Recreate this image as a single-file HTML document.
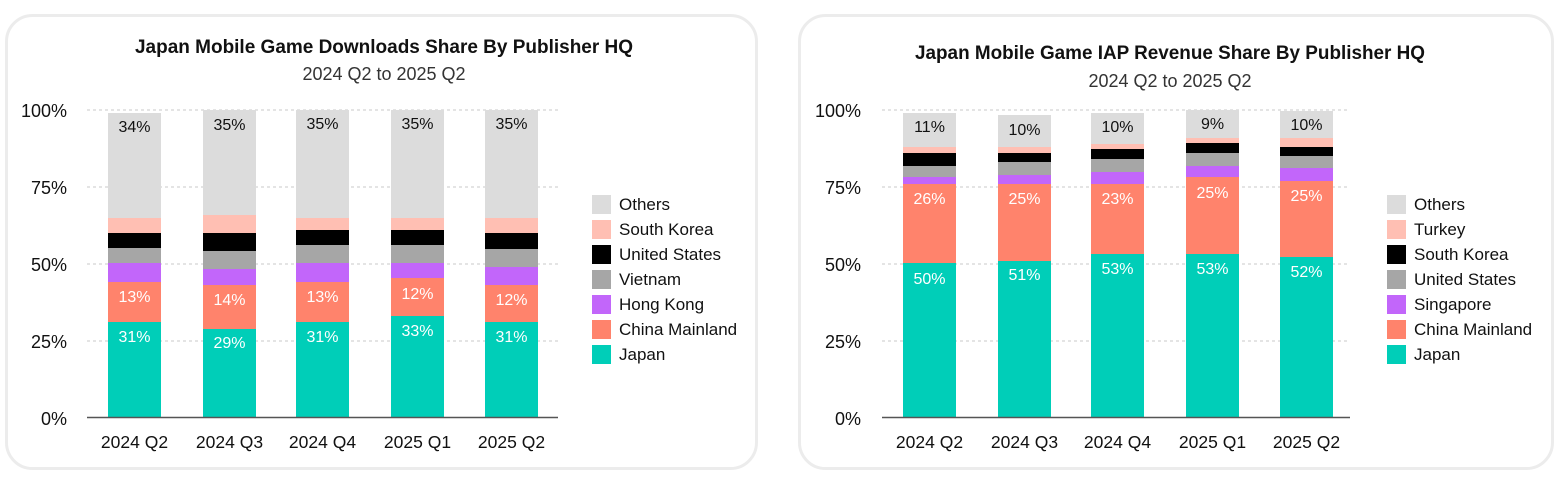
<!DOCTYPE html>
<html><head><meta charset="utf-8"><style>
html,body{margin:0;padding:0;background:#fff;}
svg{display:block;font-family:"Liberation Sans",sans-serif;}
</style></head><body>
<svg width="1563" height="492" viewBox="0 0 1563 492" xmlns="http://www.w3.org/2000/svg">
<rect x="0" y="0" width="1563" height="492" fill="#fff"/>
<rect x="6.5" y="15.5" width="750" height="453" rx="26" fill="#fff" stroke="#ececec" stroke-width="3"/>
<rect x="799.5" y="15.5" width="753" height="453" rx="26" fill="#fff" stroke="#ececec" stroke-width="3"/>
<g fill="#111">
<text x="384" y="53" font-size="19" font-weight="bold" text-anchor="middle" textLength="498" lengthAdjust="spacingAndGlyphs">Japan Mobile Game Downloads Share By Publisher HQ</text>
<text x="384" y="80" font-size="18" text-anchor="middle" fill="#333">2024 Q2 to 2025 Q2</text>
<text x="1170" y="59" font-size="19" font-weight="bold" text-anchor="middle" textLength="510" lengthAdjust="spacingAndGlyphs">Japan Mobile Game IAP Revenue Share By Publisher HQ</text>
<text x="1170" y="87" font-size="18" text-anchor="middle" fill="#333">2024 Q2 to 2025 Q2</text>
</g>
<g stroke="#c8c8c8" stroke-dasharray="3,3" stroke-width="1">
<line x1="87" y1="110" x2="558" y2="110"/><line x1="87" y1="187" x2="558" y2="187"/><line x1="87" y1="264" x2="558" y2="264"/><line x1="87" y1="341" x2="558" y2="341"/>
<line x1="882" y1="110" x2="1350" y2="110"/><line x1="882" y1="187" x2="1350" y2="187"/><line x1="882" y1="264" x2="1350" y2="264"/><line x1="882" y1="341" x2="1350" y2="341"/>
</g>
<g font-size="18" text-anchor="end" fill="#111">
<text x="67" y="117">100%</text><text x="67" y="194">75%</text><text x="67" y="271">50%</text><text x="67" y="348">25%</text><text x="67" y="425">0%</text>
<text x="861" y="117">100%</text><text x="861" y="194">75%</text><text x="861" y="271">50%</text><text x="861" y="348">25%</text><text x="861" y="425">0%</text>
</g>
<g>
<rect x="108" y="113" width="53" height="105" fill="#dcdcdc"/><rect x="108" y="218" width="53" height="15" fill="#ffbfb3"/><rect x="108" y="233" width="53" height="15" fill="#000"/><rect x="108" y="248" width="53" height="15" fill="#a6a6a6"/><rect x="108" y="263" width="53" height="19" fill="#c266fa"/><rect x="108" y="282" width="53" height="40" fill="#ff836c"/><rect x="108" y="322" width="53" height="95" fill="#00ceb8"/>
<rect x="203" y="110" width="53" height="105" fill="#dcdcdc"/><rect x="203" y="215" width="53" height="18" fill="#ffbfb3"/><rect x="203" y="233" width="53" height="18" fill="#000"/><rect x="203" y="251" width="53" height="18" fill="#a6a6a6"/><rect x="203" y="269" width="53" height="16" fill="#c266fa"/><rect x="203" y="285" width="53" height="44" fill="#ff836c"/><rect x="203" y="329" width="53" height="88" fill="#00ceb8"/>
<rect x="296" y="110" width="53" height="108" fill="#dcdcdc"/><rect x="296" y="218" width="53" height="12" fill="#ffbfb3"/><rect x="296" y="230" width="53" height="15" fill="#000"/><rect x="296" y="245" width="53" height="18" fill="#a6a6a6"/><rect x="296" y="263" width="53" height="19" fill="#c266fa"/><rect x="296" y="282" width="53" height="40" fill="#ff836c"/><rect x="296" y="322" width="53" height="95" fill="#00ceb8"/>
<rect x="391" y="110" width="53" height="108" fill="#dcdcdc"/><rect x="391" y="218" width="53" height="12" fill="#ffbfb3"/><rect x="391" y="230" width="53" height="15" fill="#000"/><rect x="391" y="245" width="53" height="18" fill="#a6a6a6"/><rect x="391" y="263" width="53" height="15" fill="#c266fa"/><rect x="391" y="278" width="53" height="38" fill="#ff836c"/><rect x="391" y="316" width="53" height="101" fill="#00ceb8"/>
<rect x="485" y="110" width="53" height="108" fill="#dcdcdc"/><rect x="485" y="218" width="53" height="15" fill="#ffbfb3"/><rect x="485" y="233" width="53" height="16" fill="#000"/><rect x="485" y="249" width="53" height="18" fill="#a6a6a6"/><rect x="485" y="267" width="53" height="18" fill="#c266fa"/><rect x="485" y="285" width="53" height="37" fill="#ff836c"/><rect x="485" y="322" width="53" height="95" fill="#00ceb8"/>
</g>
<g>
<rect x="903" y="113" width="53" height="34" fill="#dcdcdc"/><rect x="903" y="147" width="53" height="6" fill="#ffbfb3"/><rect x="903" y="153" width="53" height="13" fill="#000"/><rect x="903" y="166" width="53" height="11" fill="#a6a6a6"/><rect x="903" y="177" width="53" height="7" fill="#c266fa"/><rect x="903" y="184" width="53" height="79" fill="#ff836c"/><rect x="903" y="263" width="53" height="154" fill="#00ceb8"/>
<rect x="998" y="115" width="53" height="32" fill="#dcdcdc"/><rect x="998" y="147" width="53" height="6" fill="#ffbfb3"/><rect x="998" y="153" width="53" height="9" fill="#000"/><rect x="998" y="162" width="53" height="13" fill="#a6a6a6"/><rect x="998" y="175" width="53" height="9" fill="#c266fa"/><rect x="998" y="184" width="53" height="77" fill="#ff836c"/><rect x="998" y="261" width="53" height="156" fill="#00ceb8"/>
<rect x="1091" y="113" width="53" height="31" fill="#dcdcdc"/><rect x="1091" y="144" width="53" height="5" fill="#ffbfb3"/><rect x="1091" y="149" width="53" height="10" fill="#000"/><rect x="1091" y="159" width="53" height="13" fill="#a6a6a6"/><rect x="1091" y="172" width="53" height="12" fill="#c266fa"/><rect x="1091" y="184" width="53" height="70" fill="#ff836c"/><rect x="1091" y="254" width="53" height="163" fill="#00ceb8"/>
<rect x="1186" y="110" width="53" height="28" fill="#dcdcdc"/><rect x="1186" y="138" width="53" height="5" fill="#ffbfb3"/><rect x="1186" y="143" width="53" height="10" fill="#000"/><rect x="1186" y="153" width="53" height="13" fill="#a6a6a6"/><rect x="1186" y="166" width="53" height="11" fill="#c266fa"/><rect x="1186" y="177" width="53" height="77" fill="#ff836c"/><rect x="1186" y="254" width="53" height="163" fill="#00ceb8"/>
<rect x="1280" y="111" width="53" height="27" fill="#dcdcdc"/><rect x="1280" y="138" width="53" height="9" fill="#ffbfb3"/><rect x="1280" y="147" width="53" height="9" fill="#000"/><rect x="1280" y="156" width="53" height="12" fill="#a6a6a6"/><rect x="1280" y="168" width="53" height="13" fill="#c266fa"/><rect x="1280" y="181" width="53" height="76" fill="#ff836c"/><rect x="1280" y="257" width="53" height="160" fill="#00ceb8"/>
</g>
<line x1="87" y1="417.5" x2="558" y2="417.5" stroke="#555" stroke-width="1.5"/>
<line x1="882" y1="417.5" x2="1350" y2="417.5" stroke="#555" stroke-width="1.5"/>
<g font-size="16" text-anchor="middle" fill="#111">
<text x="134.5" y="132">34%</text><text x="229.5" y="130">35%</text><text x="322.5" y="129">35%</text><text x="417.5" y="129">35%</text><text x="511.5" y="129">35%</text>
<text x="929.5" y="132">11%</text><text x="1024.5" y="135">10%</text><text x="1117.5" y="132">10%</text><text x="1212.5" y="129">9%</text><text x="1306.5" y="130">10%</text>
</g>
<g font-size="16" text-anchor="middle" fill="#fff">
<text x="134.5" y="302">13%</text><text x="229.5" y="305">14%</text><text x="322.5" y="302">13%</text><text x="417.5" y="299">12%</text><text x="511.5" y="305">12%</text>
<text x="134.5" y="342">31%</text><text x="229.5" y="348">29%</text><text x="322.5" y="342">31%</text><text x="417.5" y="336">33%</text><text x="511.5" y="342">31%</text>
<text x="929.5" y="204">26%</text><text x="1024.5" y="204">25%</text><text x="1117.5" y="204">23%</text><text x="1212.5" y="198">25%</text><text x="1306.5" y="201">25%</text>
<text x="929.5" y="284">50%</text><text x="1024.5" y="280">51%</text><text x="1117.5" y="274">53%</text><text x="1212.5" y="274">53%</text><text x="1306.5" y="277">52%</text>
</g>
<g font-size="17.5" text-anchor="middle" fill="#111">
<text x="134.5" y="448">2024 Q2</text><text x="229.5" y="448">2024 Q3</text><text x="322.5" y="448">2024 Q4</text><text x="417.5" y="448">2025 Q1</text><text x="511.5" y="448">2025 Q2</text>
<text x="929.5" y="448">2024 Q2</text><text x="1024.5" y="448">2024 Q3</text><text x="1117.5" y="448">2024 Q4</text><text x="1212.5" y="448">2025 Q1</text><text x="1306.5" y="448">2025 Q2</text>
</g>
<g font-size="17" fill="#111">
<rect x="592" y="195" width="19" height="19" fill="#dcdcdc"/><text x="619" y="210">Others</text>
<rect x="592" y="220" width="19" height="19" fill="#ffbfb3"/><text x="619" y="235">South Korea</text>
<rect x="592" y="245" width="19" height="19" fill="#000"/><text x="619" y="260">United States</text>
<rect x="592" y="270" width="19" height="19" fill="#a6a6a6"/><text x="619" y="285">Vietnam</text>
<rect x="592" y="295" width="19" height="19" fill="#c266fa"/><text x="619" y="310">Hong Kong</text>
<rect x="592" y="320" width="19" height="19" fill="#ff836c"/><text x="619" y="335">China Mainland</text>
<rect x="592" y="345" width="19" height="19" fill="#00ceb8"/><text x="619" y="360">Japan</text>
<rect x="1387" y="195" width="19" height="19" fill="#dcdcdc"/><text x="1414" y="210">Others</text>
<rect x="1387" y="220" width="19" height="19" fill="#ffbfb3"/><text x="1414" y="235">Turkey</text>
<rect x="1387" y="245" width="19" height="19" fill="#000"/><text x="1414" y="260">South Korea</text>
<rect x="1387" y="270" width="19" height="19" fill="#a6a6a6"/><text x="1414" y="285">United States</text>
<rect x="1387" y="295" width="19" height="19" fill="#c266fa"/><text x="1414" y="310">Singapore</text>
<rect x="1387" y="320" width="19" height="19" fill="#ff836c"/><text x="1414" y="335">China Mainland</text>
<rect x="1387" y="345" width="19" height="19" fill="#00ceb8"/><text x="1414" y="360">Japan</text>
</g>
</svg>
</body></html>
